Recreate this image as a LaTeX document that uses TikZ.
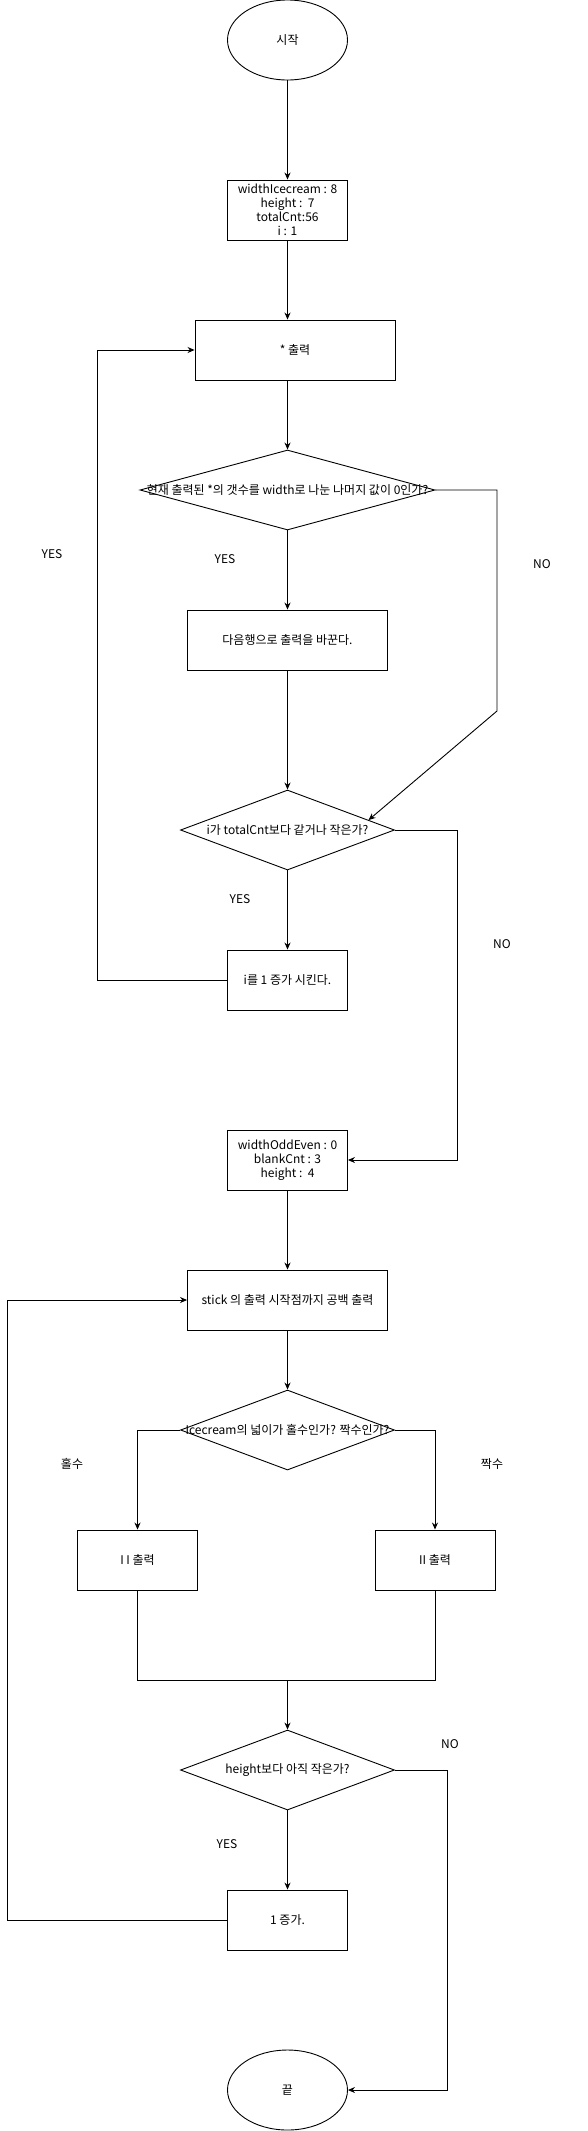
\documentclass[tikz,border=0pt]{standalone}
\usepackage{fontspec}
\setmainfont{Noto Sans CJK KR}
\usetikzlibrary{shapes.geometric, arrows.meta}

\begin{document}
\fontsize{12}{14}\selectfont
\begin{tikzpicture}[x=1pt, y=-1pt, line width=0.9pt,
		box/.style={draw, rectangle, inner sep=0pt, minimum width=120pt, minimum height=60pt, align=center},
		widebox/.style={box, minimum width=200pt},
		terminal/.style={draw, ellipse, inner sep=0pt, minimum width=120pt, minimum height=80pt},
		decision/.style={draw, diamond, inner sep=0pt, minimum width=214pt, minimum height=80pt},
		arr/.style={-{Stealth[length=7pt, width=6pt]}}]
			\useasboundingbox (0, 0) rectangle (588, 2131);
			\node[terminal] (start) at (287.5, 40) {시작};
			\node[box] (init) at (287.5, 210) {widthIcecream : 8\\height :\ \ 7\\totalCnt:56\\i : 1};
			\node[widebox] (star) at (295, 350) {* 출력};
			\node[decision, minimum width=295pt, label=center:{현재 출력된 *의 갯수를 width로 나눈 나머지 값이 0인가?}] (chk1) at (287.5, 490) {};
			\node[widebox] (nextrow) at (287.5, 640) {다음행으로 출력을 바꾼다.};
			\node[decision, label=center:{i가 totalCnt보다 같거나 작은가?}] (chk2) at (287.5, 830) {};
			\node[box] (inc) at (287.5, 980) {i를 1 증가 시킨다.};
			\node[box] (init2) at (287.5, 1160) {widthOddEven : 0\\blankCnt : 3\\height :\ \ 4};
			\node[widebox] (stick) at (287.5, 1300) {stick 의 출력 시작점까지 공백 출력};
			\node[decision, label=center:{Icecream의 넓이가 홀수인가? 짝수인가?}] (chk3) at (287.5, 1430) {};
			\node[box] (odd) at (137.5, 1560) {I I 출력};
			\node[box] (even) at (435, 1560) {II 출력};
			\node[decision, label=center:{height보다 아직 작은가?}] (chk4) at (287.5, 1770) {};
			\node[box] (inc2) at (287.5, 1920) {1 증가.};
			\node[terminal] (stop) at (287.5, 2090) {끝};
			% labels
			\node (yes1) at (52, 554) {YES};
			\node (yes2) at (225, 559) {YES};
			\node (no1) at (542, 564) {NO};
			\node (yes3) at (240, 899) {YES};
			\node (no2) at (502, 944) {NO};
			\node (oddlbl) at (72, 1464) {홀수};
			\node (evenlbl) at (492, 1464) {짝수};
			\node (no3) at (450, 1744) {NO};
			\node (yes4) at (227, 1844) {YES};
			% bend points
			\coordinate (n1) at (497, 711);
			\coordinate (n2) at (457, 1160);
			\coordinate (l1) at (97.5, 350);
			\coordinate (l2) at (7.5, 1300);
			\coordinate (m) at (287.5, 1680);
			\coordinate (n3) at (447, 2090);
			\draw[arr] (start) -- (init);
			\draw[arr] (init) -- (init |- star.north);
			\draw[arr] (star.south -| chk1) -- (chk1.north);
			\draw[arr] (chk1) -- (nextrow);
			\draw[arr] (chk1.east) -| (n1) -- (chk2.7);
			\draw[arr] (nextrow) -- (chk2);
			\draw[arr] (chk2) -- (inc);
			\draw[arr] (inc.west) -| (l1) -- (star.west);
			\draw[arr] (chk2.east) -| (n2) -- (init2.east);
			\draw[arr] (init2) -- (stick);
			\draw[arr] (stick) -- (chk3);
			\draw[arr] (chk3.west) -| (odd.north);
			\draw[arr] (chk3.east) -| (even.north);
			\draw (odd.south) |- (m) -| (even.south);
			\draw[arr] (m) -- (chk4.north);
			\draw[arr] (chk4) -- (inc2);
			\draw[arr] (inc2.west) -| (l2) -- (stick.west);
			\draw[arr] (chk4.east) -| (n3) -- (stop.east);
		\end{tikzpicture}
\end{document}
